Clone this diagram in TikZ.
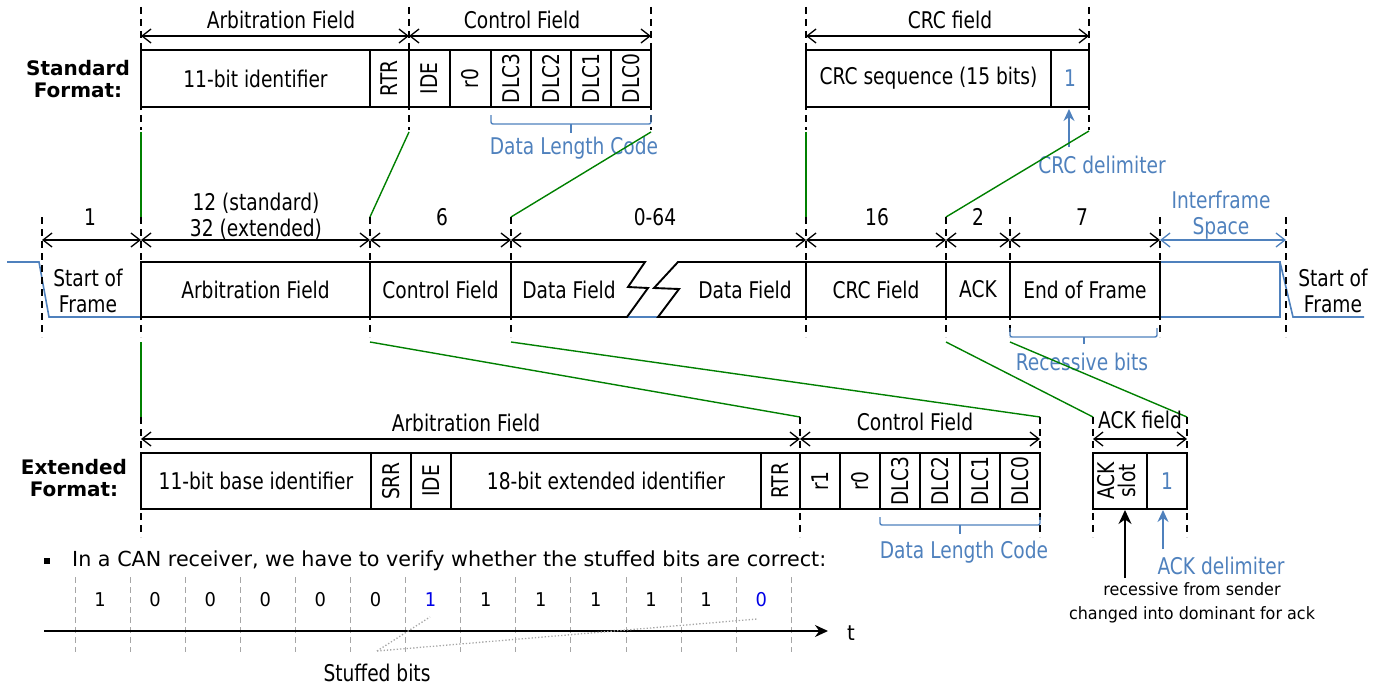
\documentclass[tikz,border=0pt]{standalone}
\usepackage{fontspec}
\setmainfont{DejaVu Sans}[FakeStretch=0.81]
\newfontfamily\hdfont{DejaVu Sans}
\newfontfamily\txtfont{DejaVu Sans}[FakeStretch=0.94]
\usetikzlibrary{arrows.meta}
\definecolor{cblue}{RGB}{79,129,189}
\definecolor{cgreen}{RGB}{0,128,0}
\definecolor{bitblue}{RGB}{0,0,230}
\newcommand\mkcell[7]{%
  \node[cellst,#6,minimum width={(#3-#2)*1pt},minimum height={(#5-#4)*1pt},anchor=north west] (#1) at (#2,#4) {#7};}
\newcommand\rotl[1]{\rotatebox{90}{#1}}
\newcommand\dimln[5]{%
  \coordinate (#1a) at (#2,#4); \coordinate (#1b) at (#3,#4);
  \draw[dimarrow,#5] (#1a) -- (#1b);}
\newcommand\vdl[4]{%
  \coordinate (#1t) at (#2,#3); \coordinate (#1b) at (#2,#4);
  \draw[vdash] (#1t) -- (#1b);}
\newcommand\grn[5]{%
  \coordinate (#1s) at (#2,#3); \coordinate (#1e) at (#4,#5);
  \draw[gline] (#1s) -- (#1e);}
\begin{document}
\begin{tikzpicture}[x=1pt,y=-1pt,
  cellst/.style={draw,line width=1.9pt,inner sep=0pt,outer sep=0pt,font=\fontsize{23}{25}\selectfont,align=center},
  boxline/.style={line width=1.9pt,line join=miter},
  dimarrow/.style={line width=1.3pt,{Straight Barb[length=9pt,width=14pt]}-{Straight Barb[length=9pt,width=14pt]}},
  vdash/.style={line width=1.4pt,dash pattern=on 7pt off 5pt},
  gline/.style={cgreen,line width=1.4pt},
  lbl/.style={font=\fontsize{23}{26}\selectfont,inner sep=0pt,align=center},
  bluelbl/.style={lbl,text=cblue},
  sig/.style={cblue,line width=1.6pt},
  brace/.style={cblue,line width=1.4pt,rounded corners=2pt},
  barrow/.style={cblue,line width=1.6pt,-{Stealth[length=12pt,width=11pt]}},
  karrow/.style={black,line width=1.6pt,-{Stealth[length=14pt,width=13pt]}},
  hdlbl/.style={font=\hdfont\bfseries\fontsize{20}{22}\selectfont,inner sep=0pt,align=center},
  gridl/.style={gray!70,line width=1pt,dash pattern=on 6pt off 4pt},
  dotl/.style={gray!70,line width=1.3pt,dotted},
  smalltxt/.style={font=\txtfont\fontsize{17}{24}\selectfont,inner sep=0pt,align=center},
]
\useasboundingbox (0,0) rectangle (1385,685);

% ===== Standard format =====
\node[hdlbl] (stdlbl) at (78,79) {Standard\\Format:};
\vdl{sa}{141}{7}{130}
\vdl{sb}{409}{7}{130}
\vdl{sc}{651}{7}{130}
\vdl{sd}{806}{7}{130}
\vdl{se}{1089}{7}{130}
\dimln{da}{141}{409}{36}{}
\dimln{db}{409}{651}{36}{}
\dimln{dc}{806}{1089}{36}{}
\node[lbl] (tarb) at (281,20) {Arbitration Field};
\node[lbl] (tctl) at (522,20) {Control Field};
\node[lbl] (tcrc) at (950,20) {CRC field};

\mkcell{sid}{141}{370}{50}{107}{}{11-bit identifier}
\mkcell{srtr}{370}{409}{50}{107}{}{\rotl{RTR}}
\mkcell{side}{409}{450}{50}{107}{}{\rotl{IDE}}
\mkcell{sr0}{450}{491}{50}{107}{}{\rotl{r0}}
\mkcell{sd3}{491}{531}{50}{107}{}{\rotl{DLC3}}
\mkcell{sd2}{531}{571}{50}{107}{}{\rotl{DLC2}}
\mkcell{sd1}{571}{611}{50}{107}{}{\rotl{DLC1}}
\mkcell{sd0}{611}{651}{50}{107}{}{\rotl{DLC0}}
\mkcell{scrc}{806}{1051}{50}{107}{}{CRC sequence (15 bits)}
\mkcell{scd}{1051}{1089}{50}{107}{text=cblue}{1}

\draw[brace] (491,115) -- (491,124) -- (651,124) -- (651,115);
\draw[brace] (571,124) -- (571,133);
\node[bluelbl] (tdlc) at (574,148) {Data Length Code};

\node[bluelbl] (tcrcd) at (1102,165) {CRC delimiter};
\coordinate (crcdt) at (1069,147);
\coordinate (crcdh) at (1069,109);
\draw[barrow] (crcdt) -- (crcdh);

% green links top -> middle
\grn{g1}{141}{132}{141}{217}
\grn{g2}{409}{132}{370}{217}
\grn{g3}{651}{132}{511}{217}
\grn{g4}{806}{132}{806}{217}
\grn{g5}{1089}{131}{946}{217}

% ===== Middle frame =====
\draw[sig] (7,262) -- (39,262) -- (49,317) -- (141,317);
\draw[sig] (627,317) -- (658,317);
\draw[sig] (1160,262) -- (1280,262) -- (1280,317) -- (1160,317);
\draw[sig] (1280,262) -- (1293,317) -- (1364,317);

\vdl{m0}{42}{217}{337}
\vdl{m1}{141}{217}{337}
\vdl{m2}{370}{217}{337}
\vdl{m3}{511}{217}{337}
\vdl{m4}{806}{217}{337}
\vdl{m5}{946}{217}{337}
\vdl{m6}{1010}{217}{337}
\vdl{m7}{1160}{217}{337}
\vdl{m8}{1286}{217}{337}

\dimln{n1}{42}{141}{240}{}
\dimln{n2}{141}{370}{240}{}
\dimln{n3}{370}{511}{240}{}
\dimln{n4}{511}{806}{240}{}
\dimln{n5}{806}{946}{240}{}
\dimln{n6}{946}{1010}{240}{}
\dimln{n7}{1010}{1160}{240}{}
\dimln{n8}{1160}{1286}{240}{cblue}

\node[lbl] (l1) at (90,217) {1};
\node[lbl] (l2) at (256,216) {12 (standard)\\32 (extended)};
\node[lbl] (l3) at (442,217) {6};
\node[lbl] (l4) at (655,217) {0-64};
\node[lbl] (l5) at (877,217) {16};
\node[lbl] (l6) at (978,217) {2};
\node[lbl] (l7) at (1082,217) {7};
\node[bluelbl] (l8) at (1221,215) {Interframe\\Space};

\node[lbl] (sofl) at (88,291) {Start of\\Frame};
\node[lbl] (sofr) at (1333,291) {Start of\\Frame};

\mkcell{marb}{141}{370}{262}{317}{}{Arbitration Field}
\mkcell{mctl}{370}{511}{262}{317}{}{Control Field}
\draw[boxline] (511,262) -- (645,262) -- (628,287) -- (648,288) -- (627,317) -- (511,317);
\node[lbl] (mdf1) at (569,290) {Data Field};
\draw[boxline] (806,262) -- (678,262) -- (654,288) -- (679,289) -- (658,317) -- (806,317);
\node[lbl] (mdf2) at (745,290) {Data Field};
\mkcell{mcrc}{806}{946}{262}{317}{}{CRC Field}
\mkcell{mack}{946}{1010}{262}{317}{}{ACK}
\mkcell{meof}{1010}{1160}{262}{317}{}{End of Frame}

\draw[brace] (1010,328) -- (1010,337) -- (1157,337) -- (1157,328);
\draw[brace] (1084,337) -- (1084,344);
\node[bluelbl] (trec) at (1082,362) {Recessive bits};

% green links middle -> extended
\grn{h1}{141}{342}{141}{417}
\grn{h2}{370}{342}{800}{417}
\grn{h3}{511}{342}{1040}{417}
\grn{h4}{946}{342}{1093}{417}
\grn{h5}{1010}{342}{1187}{417}

% ===== Extended format =====
\node[hdlbl] (extlbl) at (74,478) {Extended\\Format:};
\vdl{e0}{141}{417}{537}
\vdl{e1}{800}{417}{537}
\vdl{e2}{1040}{417}{537}
\vdl{e3}{1093}{417}{537}
\vdl{e4}{1187}{417}{537}
\dimln{f1}{141}{800}{439}{}
\dimln{f2}{800}{1040}{439}{}
\dimln{f3}{1093}{1187}{439}{}
\node[lbl] (earb) at (466,423) {Arbitration Field};
\node[lbl] (ectl) at (915,422) {Control Field};
\node[lbl] (eackf) at (1140,420) {ACK field};

\mkcell{eid}{141}{371}{453}{509}{}{11-bit base identifier}
\mkcell{esrr}{371}{411}{453}{509}{}{\rotl{SRR}}
\mkcell{eide}{411}{451}{453}{509}{}{\rotl{IDE}}
\mkcell{eext}{451}{761}{453}{509}{}{18-bit extended identifier}
\mkcell{ertr}{761}{800}{453}{509}{}{\rotl{RTR}}
\mkcell{er1}{800}{840}{453}{509}{}{\rotl{r1}}
\mkcell{er0}{840}{880}{453}{509}{}{\rotl{r0}}
\mkcell{ed3}{880}{920}{453}{509}{}{\rotl{DLC3}}
\mkcell{ed2}{920}{960}{453}{509}{}{\rotl{DLC2}}
\mkcell{ed1}{960}{1000}{453}{509}{}{\rotl{DLC1}}
\mkcell{ed0}{1000}{1040}{453}{509}{}{\rotl{DLC0}}
\mkcell{aslot}{1093}{1147}{453}{509}{}{\rotl{\begin{tabular}{@{}c@{}}ACK\\[-4pt]slot\end{tabular}}}
\mkcell{adel}{1147}{1187}{453}{509}{text=cblue}{1}

\draw[brace] (880,517) -- (880,525) -- (1040,525) -- (1040,517);
\draw[brace] (960,525) -- (960,534);
\node[bluelbl] (edlc) at (964,552) {Data Length Code};

\node[smalltxt] (arec) at (1192,603) {recessive from sender\\changed into dominant for ack};
\coordinate (ackt) at (1125,578);
\coordinate (ackh) at (1125,510);
\draw[karrow] (ackt) -- (ackh);
\node[bluelbl] (tackd) at (1221,566) {ACK delimiter};
\coordinate (ackdt) at (1163,549);
\coordinate (ackdh) at (1163,510);
\draw[barrow] (ackdt) -- (ackdh);

% ===== Bit stuffing =====
\node[fill=black,minimum size=6pt,inner sep=0pt] (bul) at (47,561) {};
\node[font=\hdfont\fontsize{20.7}{22}\selectfont,anchor=west,inner sep=0pt] (btxt) at (72,561) {In a CAN receiver, we have to verify whether the stuffed bits are correct:};
\foreach \i in {0,...,13} \draw[gridl] ({75+55.1*\i},577) -- ({75+55.1*\i},652);
\foreach \d/\c [count=\i from 0] in {1/black,0/black,0/black,0/black,0/black,0/black,1/bitblue,1/black,1/black,1/black,1/black,1/black,0/bitblue}
  \node[font=\txtfont\fontsize{19}{20}\selectfont,inner sep=0pt,text=\c] (bit\i) at ({100+55.1*\i},600) {\d};
\coordinate (ax0) at (44,631);
\coordinate (ax1) at (828,631);
\draw[line width=1.6pt,-{Stealth[length=13pt,width=12pt]}] (ax0) -- (ax1);
\node[font=\txtfont\fontsize{21}{22}\selectfont,inner sep=0pt] (tlab) at (851,633) {t};
\node[lbl] (stuff) at (377,673) {Stuffed bits};
\coordinate (stuffp) at (377,651);
\coordinate (sb1) at (430,617);
\coordinate (sb2) at (757,619);
\draw[dotl] (stuffp) -- (sb1);
\draw[dotl] (stuffp) -- (sb2);
\end{tikzpicture}
\end{document}
